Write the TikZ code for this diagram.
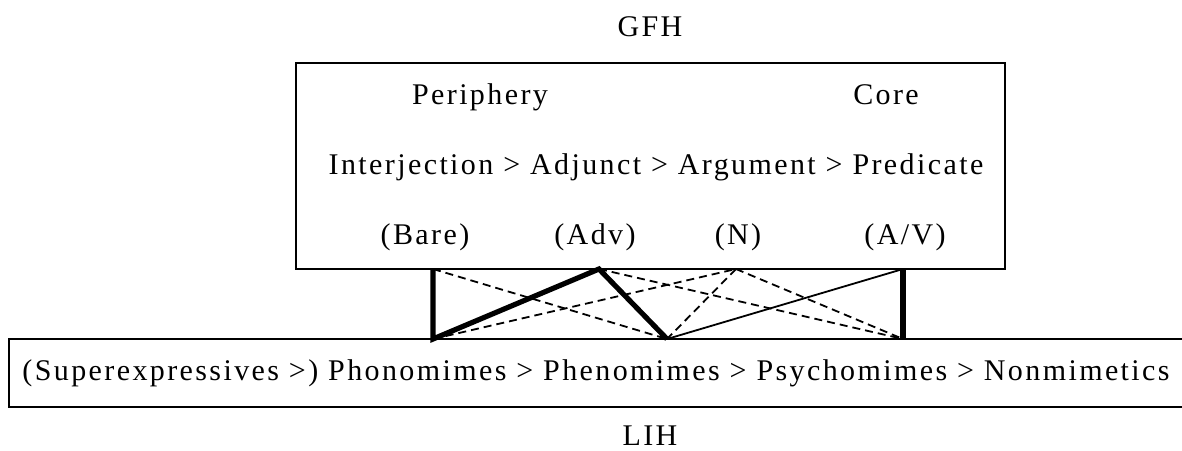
\documentclass[tikz,border=0pt]{standalone}
\usepackage{fontspec}
\setmainfont{Liberation Serif}[LetterSpace=8]
\usetikzlibrary{positioning}

\tikzset{
  txt/.style={inner sep=0pt, anchor=base, font=\fontsize{15pt}{18pt}\selectfont},
  boxline/.style={draw, line width=1pt, inner sep=0pt},
  strong/.style={line width=2.6pt},
  plain/.style={line width=0.9pt},
  weakdash/.style={line width=0.9pt, dash pattern=on 4pt off 2.5pt},
}

\begin{document}
\begin{tikzpicture}[x=0.5pt, y=-0.5pt]
\useasboundingbox (0,0) rectangle (1182,450);
\clip (0,0) rectangle (1182,450);
% Grammatical function hierarchy (upper box)
\node[boxline, minimum width=354.5pt, minimum height=103pt] (gfh) at (650.5,166) {};
\node[txt] (gfhname) at (650,36) {GFH};
\node[txt] (periphery) at (480,104) {Periphery};
\node[txt] (core) at (886,104) {Core};
\node[txt] (functions) at (656,174) {Interjection > Adjunct > Argument > Predicate};
\node[txt] (bare) at (425,244) {(Bare)};
\node[txt] (adv) at (595,244) {(Adv)};
\node[txt] (noun) at (738,244) {(N)};
\node[txt] (av) at (905,244) {(A/V)};
% Lexical iconicity hierarchy (lower box, runs off the right edge)
\node[boxline, minimum width=595.5pt, minimum height=34pt] (lih) at (604.5,373) {};
\node[txt] (classes) at (596,380) {(Superexpressives >) Phonomimes > Phenomimes > Psychomimes > Nonmimetics};
\node[txt] (lihname) at (650,445) {LIH};
% Attachment points
\coordinate (t1) at (433,269);
\coordinate (t2) at (599,269);
\coordinate (t3) at (736,269);
\coordinate (t4) at (903,269);
\coordinate (b1) at (433,339);
\coordinate (b2) at (667,339);
\coordinate (b3) at (903,339);
% Weak mappings
\draw[weakdash] (t1) -- (b2);
\draw[weakdash] (b1) -- (t3);
\draw[weakdash] (t2) -- (b3);
\draw[weakdash] (t3) -- (b2);
\draw[weakdash] (t3) -- (b3);
% Plain mapping
\draw[plain] (b2) -- (t4);
% Strong mappings
\draw[strong] (t1) -- (b1) -- (t2) -- (b2);
\draw[strong] (t4) -- (b3);
\end{tikzpicture}
\end{document}
